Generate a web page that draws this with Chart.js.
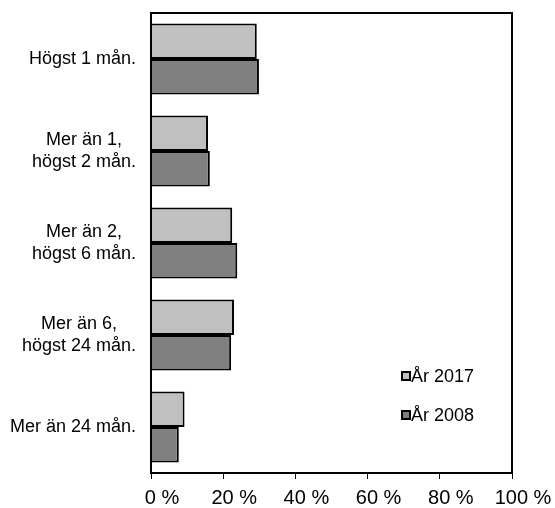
<!DOCTYPE html>
<html><head><meta charset="utf-8">
<script src="https://cdn.jsdelivr.net/npm/chart.js@4/dist/chart.umd.min.js"></script>
<style>html,body{margin:0;padding:0;background:#fff}#wrap{width:555px;height:508px}</style>
</head><body><div id="wrap"><canvas id="c" width="555" height="508"></canvas></div>
<script>
const categories = [["Högst 1 mån."],["Mer än 1,","högst 2 mån."],["Mer än 2,","högst 6 mån."],["Mer än 6,","högst 24 mån."],["Mer än 24 mån."]];
const series2017 = [29.3, 15.8, 22.5, 23.0, 9.3];
const series2008 = [29.9, 16.3, 23.9, 22.2, 7.7];
const seriesLabels = ["År 2017", "År 2008"];
const xTicks = [0, 20, 40, 60, 80, 100];
const FONT = "Liberation Sans, Arial, sans-serif";

const custom = {
  id: 'custom',
  afterDraw(chart) {
    const ctx = chart.ctx, a = chart.chartArea, y = chart.scales.y;
    ctx.save();
    ctx.strokeStyle = '#000'; ctx.lineWidth = 2;
    ctx.strokeRect(a.left, a.top, a.right - a.left, a.bottom - a.top);
    ctx.font = "18px " + FONT; ctx.fillStyle = '#000'; ctx.textBaseline = 'middle';
    const rightX = 136, lh = 21.5;
    categories.forEach((lines, i) => {
      const cy = y.getPixelForValue(i);
      const w = Math.max(...lines.map(l => ctx.measureText(l).width));
      const cx = rightX - w / 2;
      ctx.textAlign = 'center';
      lines.forEach((l, j) => {
        ctx.fillText(l, cx, cy + (j - (lines.length - 1) / 2) * lh);
      });
    });
    // legend
    const items = [{t: seriesLabels[0], c: '#c0c0c0', y: 376}, {t: seriesLabels[1], c: '#808080', y: 415}];
    ctx.textAlign = 'left';
    items.forEach(it => {
      ctx.fillStyle = it.c; ctx.fillRect(402, it.y - 4, 8, 8);
      ctx.strokeStyle = '#000'; ctx.lineWidth = 2; ctx.strokeRect(402, it.y - 4, 8, 8);
      ctx.fillStyle = '#000'; ctx.fillText(it.t, 411, it.y + 1);
    });
    ctx.restore();
  }
};

new Chart(document.getElementById('c'), {
  type: 'bar',
  data: {
    labels: categories.map(c => c.join(' ')),
    datasets: [
      {label: seriesLabels[0], data: series2017, backgroundColor: '#c0c0c0', borderColor: '#000', borderWidth: 2, categoryPercentage: 0.772, barPercentage: 1.0},
      {label: seriesLabels[1], data: series2008, backgroundColor: '#808080', borderColor: '#000', borderWidth: 2, categoryPercentage: 0.772, barPercentage: 1.0}
    ]
  },
  options: {
    indexAxis: 'y',
    responsive: false,
    animation: false,
    layout: {padding: {left: 151, right: 43, top: 13, bottom: 0}},
    plugins: {legend: {display: false}, tooltip: {enabled: false}},
    scales: {
      x: {
        min: 0, max: 100,
        afterBuildTicks: s => { s.ticks = xTicks.map(v => ({value: v})); },
        afterFit: s => { s.height = 35; },
        ticks: {font: {family: FONT, size: 20, lineHeight: 1.0}, color: '#000', callback: v => v + ' %', padding: 9, maxRotation: 0, labelOffset: 11},
        grid: {display: true, drawOnChartArea: false, drawTicks: true, tickLength: 6, color: '#000', lineWidth: 1},
        border: {color: '#000', width: 2}
      },
      y: {
        ticks: {display: false},
        grid: {display: false, drawTicks: false},
        border: {color: '#000', width: 2}
      }
    }
  },
  plugins: [custom]
});
</script></body></html>
